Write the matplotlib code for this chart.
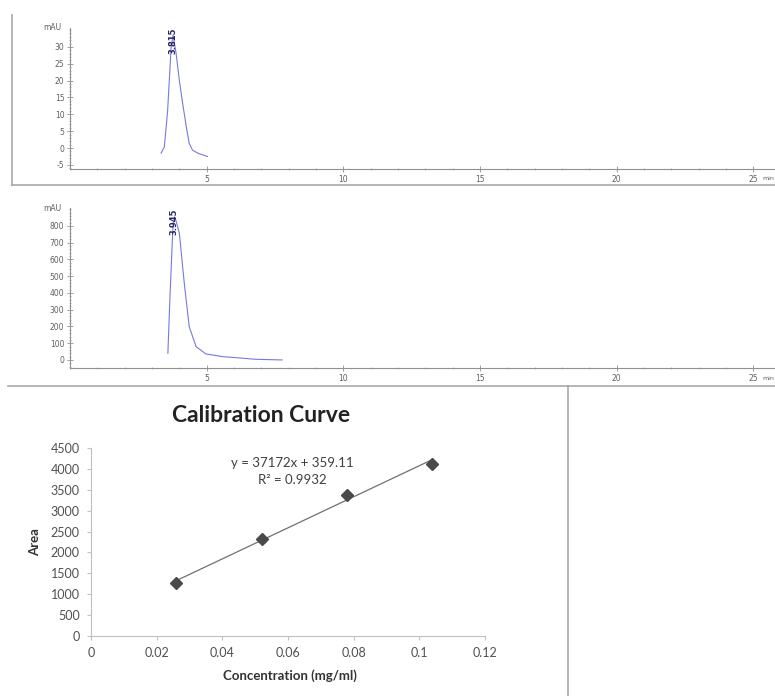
import matplotlib
matplotlib.use("Agg")
import matplotlib.pyplot as plt
from matplotlib.lines import Line2D
from matplotlib.ticker import MultipleLocator
import matplotlib.transforms as mtransforms

plt.rcParams["axes.unicode_minus"] = False

# chromatogram 1: time (min), signal (mAU)
t1 = [3.33, 3.45, 3.57, 3.70, 3.77, 3.88, 4.00, 4.12, 4.25, 4.36, 4.48, 4.70, 5.03]
a1 = [-1.5, 0.3, 11.0, 30.1, 33.5, 28.1, 20.0, 13.3, 6.5, 1.4, -0.6, -1.6, -2.5]
peak1 = "3.815"
yt1 = [-5, 0, 5, 10, 15, 20, 25, 30]

# chromatogram 2
t2 = [3.58, 3.66, 3.76, 3.82, 3.88, 4.00, 4.18, 4.36, 4.61, 4.97, 5.58, 6.20, 6.79, 7.76]
a2 = [40, 390, 776, 850, 830, 756, 458, 199, 80, 36, 20, 12, 4, 0]
peak2 = "3.945"
yt2 = [0, 100, 200, 300, 400, 500, 600, 700, 800]

xt = [5, 10, 15, 20, 25]

# calibration data
conc = [0.026, 0.052, 0.078, 0.104]
area = [1270, 2330, 3380, 4120]
slope = 37172
intercept = 359.11
r2 = 0.9932

W, H = 775, 696
fig = plt.figure(figsize=(W / 100, H / 100), dpi=100)


def px(x, y):
    return x / W, 1 - y / H


def rect(x0, y0, x1, y1):
    # pixel box -> figure fraction [left, bottom, width, height]
    return [x0 / W, 1 - y1 / H, (x1 - x0) / W, (y1 - y0) / H]


def chrom(box, t, a, ylim, yticks, minor, label, min_y):
    ax = fig.add_axes(box)
    ax.plot(t, a, color="#7878e0", lw=0.8)
    ax.set_xlim(0, 25.75)
    ax.set_ylim(*ylim)
    for s in ["top", "right"]:
        ax.spines[s].set_visible(False)
    for s in ["left", "bottom"]:
        ax.spines[s].set_color("#909090")
        ax.spines[s].set_linewidth(0.8)
    ax.set_xticks(xt)
    ax.set_xticklabels([str(v) for v in xt])
    ax.xaxis.set_minor_locator(MultipleLocator(1))
    ax.set_yticks(yticks)
    ax.yaxis.set_minor_locator(MultipleLocator(minor))
    ax.tick_params(which="major", direction="inout", length=4, width=0.6,
                   color="#909090", labelsize=5.5, labelcolor="#606060", pad=2)
    ax.tick_params(which="minor", direction="inout", length=2, width=0.5,
                   color="#a0a0a0")
    ax.text(-0.012, 1.0, "mAU", transform=ax.transAxes, ha="right",
            va="center", fontsize=5.5, color="#606060")
    fig.text(*px(774, min_y), "min", ha="right", va="center", fontsize=4.5,
             color="#606060")
    i = a.index(max(a))
    tr = mtransforms.blended_transform_factory(ax.transData, ax.transAxes)
    ax.text(t[i], 1.0, label, rotation=90, ha="center", va="top",
            fontsize=6, fontweight="bold", color="#252560", transform=tr)
    ax.patch.set_alpha(0)
    return ax


chrom(rect(70, 28, 774, 169), t1, a1, (-6.2, 35.6), yt1, 1, peak1, 179)
chrom(rect(70, 208, 774, 368), t2, a2, (-48, 907), yt2, 20, peak2, 378)

# frame lines of the pasted panels
fc = "#a8a8a8"
fig.add_artist(Line2D([12 / W, 12 / W], [1 - 15 / H, 1 - 185 / H], color=fc, lw=1.2))
fig.add_artist(Line2D([12 / W, 1], [1 - 185 / H, 1 - 185 / H], color=fc, lw=1.2))
fig.add_artist(Line2D([8 / W, 1], [1 - 386 / H, 1 - 386 / H], color=fc, lw=1.2))
fig.add_artist(Line2D([568 / W, 568 / W], [1 - 386 / H, 0], color=fc, lw=1.2))

# calibration curve
ax = fig.add_axes(rect(91, 448, 485, 636))
fit_y = [slope * c + intercept for c in (conc[0], conc[-1])]
ax.plot([conc[0], conc[-1]], fit_y, color="#707070", lw=0.9)
ax.plot(conc, area, linestyle="none", marker="D", markersize=6,
        color="#4a4a4a")
ax.set_xlim(0, 0.12)
ax.set_ylim(0, 4500)
ax.set_xticks([0, 0.02, 0.04, 0.06, 0.08, 0.1, 0.12])
ax.set_xticklabels(["0", "0.02", "0.04", "0.06", "0.08", "0.1", "0.12"])
ax.set_yticks(range(0, 4501, 500))
for s in ["top", "right"]:
    ax.spines[s].set_visible(False)
for s in ["left", "bottom"]:
    ax.spines[s].set_color("#c0c0c0")
ax.tick_params(direction="out", length=3, color="#c0c0c0", labelsize=9,
               labelcolor="#505050", pad=5)
for lab in ax.get_xticklabels() + ax.get_yticklabels():
    lab.set_family("Lato")

fig.text(*px(261, 415), "Calibration Curve", ha="center", va="center",
         fontsize=16.5, fontweight="bold", family="Lato", color="#222222")
fig.text(*px(292, 463), f"y = {slope}x + {intercept}", ha="center",
         va="center", fontsize=9.5, family="Lato", color="#404040")
fig.text(*px(292, 480), f"R² = {r2}", ha="center", va="center",
         fontsize=9.5, family="Lato", color="#404040")
fig.text(*px(35, 542), "Area", rotation=90, ha="center", va="center",
         fontsize=9.5, fontweight="bold", family="Lato", color="#333333")
fig.text(*px(290, 676), "Concentration (mg/ml)", ha="center", va="center",
         fontsize=9.5, fontweight="bold", family="Lato", color="#333333")

fig.savefig("out.png", dpi=100)
